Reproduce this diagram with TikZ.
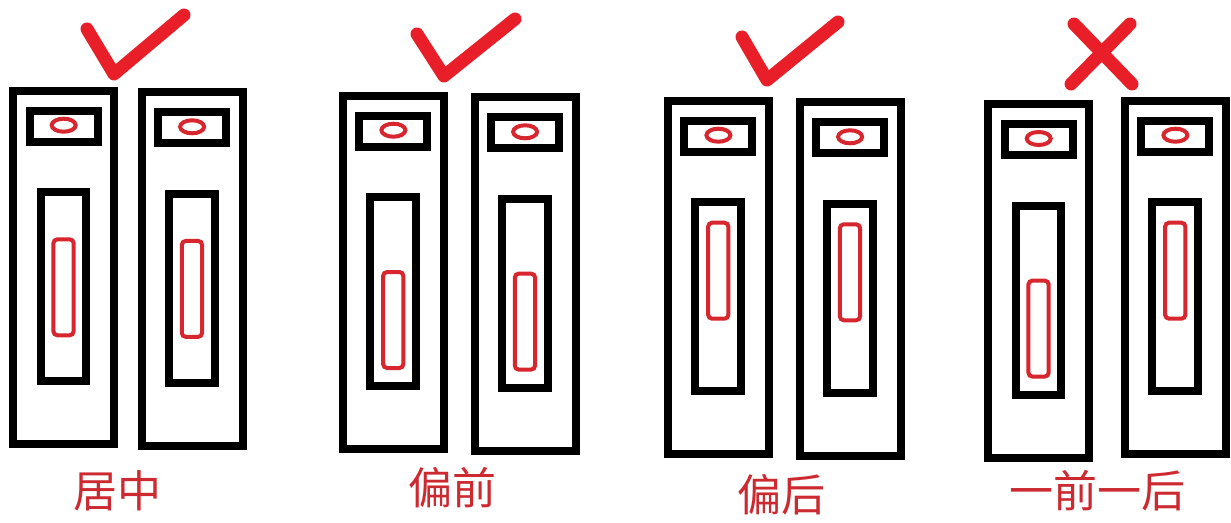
\documentclass[tikz,border=0pt]{standalone}
\usepackage{fontspec}
\usepackage{tikz}
\usetikzlibrary{positioning,shapes.geometric}
\newfontfamily\cjk{Noto Sans CJK SC}
\definecolor{pillred}{HTML}{D8262E}
\definecolor{markred}{HTML}{E81F28}
\definecolor{tagred}{HTML}{CC2A30}

\begin{document}
\begin{tikzpicture}[
  x=1pt, y=-1pt,
  door/.style={draw=black, line width=8pt, outer sep=0pt, inner sep=0pt, minimum width=101pt, minimum height=353.6pt, anchor=north west},
  window/.style={draw=black, line width=8pt, outer sep=0pt, inner sep=0pt, minimum width=68pt, minimum height=31pt},
  slot/.style={draw=black, line width=8pt, outer sep=0pt, inner sep=0pt, minimum width=45.7pt, minimum height=189pt},
  lamp/.style={draw=pillred, ellipse, line width=4pt, inner sep=0pt, minimum width=24pt, minimum height=13pt, yshift=1pt},
  pill/.style={draw=pillred, line width=4pt, outer sep=0pt, inner sep=0pt, rounded corners=4pt, minimum width=20.3pt, minimum height=96pt},
  tick/.style={draw=markred, line width=13pt, line cap=round, line join=round},
  tag/.style={text=tagred, font=\cjk\fontsize{44}{44}\selectfont, inner sep=0pt},
]
  \useasboundingbox[fill=white] (0,0) rectangle (1231,522);

  % Centred
  \node[door] (da) at (13.3,90.7) {};
  \node[window, below right=20pt and 16.4pt of da.north west] (wa) {};
  \node[lamp] (la) at (wa.center) {};
  \node[slot, below right=101.6pt and 27.4pt of da.north west] (sa) {};
  \node[pill, below=47pt of sa.north] (pa) {};
  \node[door] (db) at (141.7,92.3) {};
  \node[window, below right=20pt and 16.4pt of db.north west] (wb) {};
  \node[lamp] (lb) at (wb.center) {};
  \node[slot, below right=101.6pt and 27.4pt of db.north west] (sb) {};
  \node[pill, below=47pt of sb.north] (pb) {};
  \draw[tick] (87,29) -- (114,74) -- (184,15);
  \node[tag] (ta) at (117,491) {居中};

  % Forward
  \node[door] (dc) at (343,95.7) {};
  \node[window, below right=20pt and 16.4pt of dc.north west] (wc) {};
  \node[lamp] (lc) at (wc.center) {};
  \node[slot, below right=101.6pt and 27.4pt of dc.north west] (sc) {};
  \node[pill, below=74.7pt of sc.north] (pc) {};
  \node[door] (dd) at (474.7,97.3) {};
  \node[window, below right=20pt and 16.4pt of dd.north west] (wd) {};
  \node[lamp] (ld) at (wd.center) {};
  \node[slot, below right=101.6pt and 27.4pt of dd.north west] (sd) {};
  \node[pill, below=74.7pt of sd.north] (pd) {};
  \draw[tick] (417,34) -- (444,76) -- (515,19);
  \node[tag] (tb) at (452,488) {偏前};

  % Backward
  \node[door] (de) at (668,100.7) {};
  \node[window, below right=20pt and 16.4pt of de.north west] (we) {};
  \node[lamp] (le) at (we.center) {};
  \node[slot, below right=101.6pt and 27.4pt of de.north west] (se) {};
  \node[pill, below=20.4pt of se.north] (pe) {};
  \node[door] (df) at (799.7,102.3) {};
  \node[window, below right=20pt and 16.4pt of df.north west] (wf) {};
  \node[lamp] (lf) at (wf.center) {};
  \node[slot, below right=101.6pt and 27.4pt of df.north west] (sf) {};
  \node[pill, below=20.4pt of sf.north] (pf) {};
  \draw[tick] (742,37) -- (767,80) -- (838,22);
  \node[tag] (tc) at (781,495) {偏后};

  % One of each
  \node[door] (dg) at (988.3,104) {};
  \node[window, below right=20pt and 16.4pt of dg.north west] (wg) {};
  \node[lamp] (lg) at (wg.center) {};
  \node[slot, below right=101.6pt and 27.4pt of dg.north west] (sg) {};
  \node[pill, below=75pt of sg.north] (pg) {};
  \node[door] (dh) at (1125,100.7) {};
  \node[window, below right=20pt and 16.4pt of dh.north west] (wh) {};
  \node[lamp] (lh) at (wh.center) {};
  \node[slot, below right=101.6pt and 27.4pt of dh.north west] (sh) {};
  \node[pill, below=20.4pt of sh.north] (ph) {};
  \draw[tick] (1074,24) -- (1132,84);
  \draw[tick] (1130,24) -- (1071,84);
  \node[tag] (td) at (1097,491) {一前一后};
\end{tikzpicture}
\end{document}
